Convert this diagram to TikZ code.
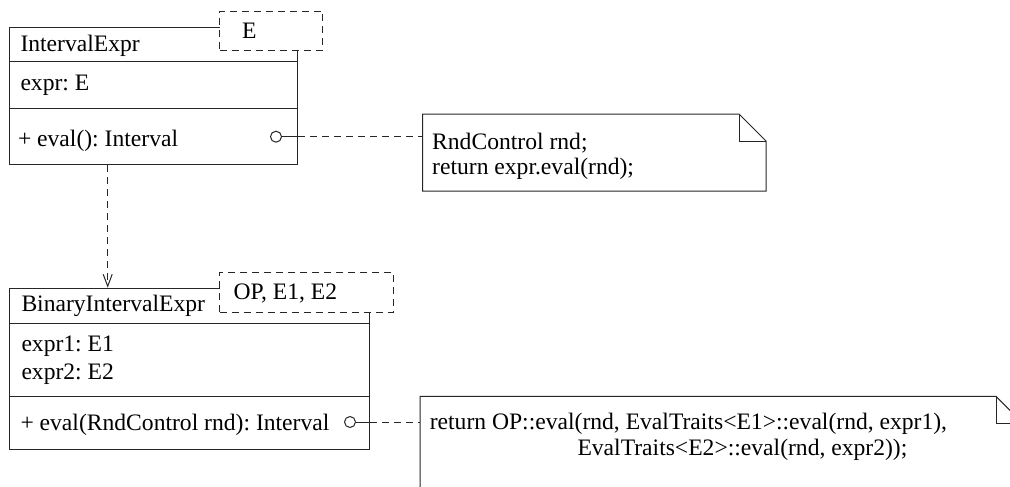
\documentclass[tikz,border=0pt]{standalone}
\usepackage{fontspec}
\setmainfont{Liberation Serif}
\usetikzlibrary{arrows.meta,calc}
\begin{document}
\frenchspacing
\begin{tikzpicture}[x=1pt,y=-1pt,
  line width=1pt,
  every node/.style={font=\fontsize{23.6pt}{25pt}\selectfont, text=black},
  classbox/.style={draw=black!85, fill=white, anchor=north west, inner sep=0pt},
  tmplbox/.style={draw=black!85, fill=white, dash pattern=on 7pt off 5pt, anchor=north west, inner sep=0pt},
  txt/.style={anchor=base west, inner sep=0pt},
  sep/.style={draw=black!85},
  notebox/.style={anchor=north west, inner sep=0pt},
  noteline/.style={draw=black!85, line join=miter},
  lolly/.style={circle, draw=black!85, fill=white, minimum size=11pt, inner sep=0pt},
  dashlink/.style={draw=black!85, dash pattern=on 7pt off 5pt},
  dep/.style={draw=black!85, dash pattern=on 7pt off 5pt, -{Straight Barb[length=12pt,width=9pt,line width=1pt]}}
]
\useasboundingbox (0,0) rectangle (1010,487);
\clip (0,0) rectangle (1010,487);

% ---- class IntervalExpr
\node[classbox, minimum width=288pt, minimum height=136.5pt] (c1) at (9,27.5) {};
\draw[sep] (9,62) -- (297,62);
\draw[sep] (9,108.7) -- (297,108.7);
\node[tmplbox, minimum width=102.7pt, minimum height=39.3pt] (t1) at (219.3,10.7) {};
\node[txt] (t1txt) at (241.7,38.3) {E};
\node[txt] (c1name) at (20,51.7) {IntervalExpr};
\node[txt] (c1attr) at (20,90.5) {expr: E};
\node[txt] (c1op) at (17.5,146.7) {+ eval(): Interval};
\node[lolly] (o1) at (276,136.7) {};

% ---- note 1
\node[notebox, minimum width=342.3pt, minimum height=76pt] (n1) at (422.7,114) {};
\draw[noteline] (n1.north west) -- ([xshift=-27pt]n1.north east) -- ([yshift=-27pt]n1.north east) -- (n1.south east) -- (n1.south west) -- cycle;
\draw[noteline] ([xshift=-27pt]n1.north east) -- ([xshift=-27pt,yshift=-27pt]n1.north east) -- ([yshift=-27pt]n1.north east);
\node[txt] (n1a) at (431.7,149.3) {RndControl rnd;};
\node[txt] (n1b) at (431.7,174.3) {return expr.eval(rnd);};

\draw[sep] (o1.east) -- (o1 -| c1.east);
\draw[dashlink] (o1 -| c1.east) -- (o1 -| n1.west);

% ---- class BinaryIntervalExpr
\node[classbox, minimum width=360pt, minimum height=161.3pt] (c2) at (9,287.7) {};
\draw[sep] (9,323.3) -- (369,323.3);
\draw[sep] (9,396.7) -- (369,396.7);
\node[tmplbox, minimum width=174pt, minimum height=39.4pt] (t2) at (219.3,272.3) {};
\node[txt] (t2txt) at (233,299.3) {OP, E1, E2};
\node[txt] (c2name) at (21,311.7) {BinaryIntervalExpr};
\node[txt] (c2attr1) at (21,351.7) {expr1: E1};
\node[txt] (c2attr2) at (21,379.3) {expr2: E2};
\node[txt] (c2op) at (20,430) {+ eval(RndControl rnd): Interval};
\node[lolly] (o2) at (350,422) {};

% ---- note 2
\node[notebox, minimum width=602pt, minimum height=110pt] (n2) at (420,396.3) {};
\draw[noteline] (n2.north west) -- ([xshift=-27pt]n2.north east) -- ([yshift=-27pt]n2.north east) -- (n2.south east) -- (n2.south west) -- cycle;
\draw[noteline] ([xshift=-27pt]n2.north east) -- ([xshift=-27pt,yshift=-27pt]n2.north east) -- ([yshift=-27pt]n2.north east);
\node[txt] (n2a) at (429.3,429.5) {return OP::eval(rnd, EvalTraits<E1>::eval(rnd, expr1),};
\node[txt] (n2b) at (577,455) {EvalTraits<E2>::eval(rnd, expr2));};

\draw[sep] (o2.east) -- (o2 -| c2.east);
\draw[dashlink] (o2 -| c2.east) -- (o2 -| n2.west);

% ---- dependency
\draw[dep] ([xshift=98.7pt]c1.south west) -- ([xshift=98.7pt]c2.north west);
\end{tikzpicture}
\end{document}
